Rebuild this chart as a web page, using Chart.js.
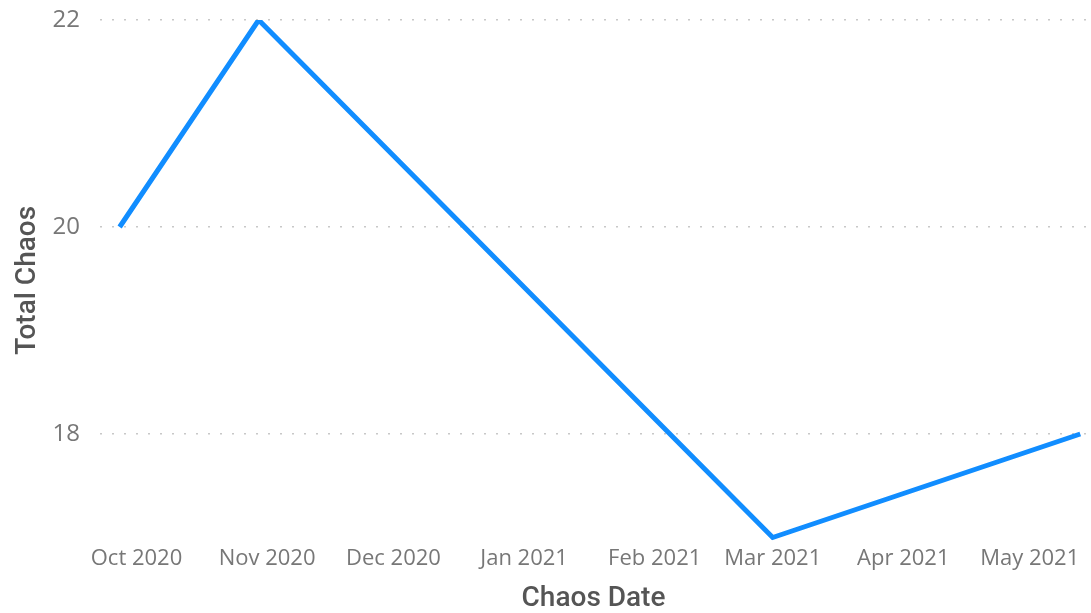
<!DOCTYPE html>
<html>
<head>
<meta charset="utf-8">
<script src="https://cdn.jsdelivr.net/npm/chart.js@4/dist/chart.umd.min.js"></script>
<style>
  html, body { margin: 0; padding: 0; background: #fff; }
  #wrap { width: 1091px; height: 613px; }
</style>
</head>
<body>
<div id="wrap"><canvas id="chaos_chart" width="1091" height="613"></canvas></div>
<script>
// continuous date axis
var chaosDates = ["2020-09-27", "2020-10-30", "2021-03-01", "2021-05-13"];
var totalChaos = [20, 22, 17, 18];
var monthStarts = ["2020-10-01", "2020-11-01", "2020-12-01", "2021-01-01", "2021-02-01", "2021-03-01", "2021-04-01", "2021-05-01"];
var monthLabels = ["Oct 2020", "Nov 2020", "Dec 2020", "Jan 2021", "Feb 2021", "Mar 2021", "Apr 2021", "May 2021"];
var yTicks = [18, 20, 22];

// days counted from 1 Oct 2020, no date adapter is loaded
function dayNo(s) {
	return (Date.parse(s + "T00:00:00Z") - Date.parse("2020-10-01T00:00:00Z")) / 86400000;
}

var points = [];
for (var i = 0; i < chaosDates.length; i++) {
	points.push({ x: dayNo(chaosDates[i]), y: totalChaos[i] });
}

new Chart(document.getElementById("chaos_chart"), {
	type: 'line',
	data: {
		datasets: [{
			label: "Total Chaos",
			data: points,
			borderColor: "#118DFF",
			backgroundColor: "#118DFF",
			borderWidth: 5,
			borderJoinStyle: 'miter',
			pointRadius: 0,
			tension: 0
		}]
	},
	options: {
		responsive: false,
		animation: false,
		layout: { padding: { left: 4, right: 4, top: 20, bottom: 0 } },
		plugins: {
			legend: { display: false },
			tooltip: { enabled: false }
		},
		scales: {
			x: {
				type: 'linear',
				min: -8.66,
				max: 225.6,
				afterBuildTicks: function(scale) {
					scale.ticks = monthStarts.map(function(d) { return { value: dayNo(d) }; });
				},
				afterFit: function(scale) {
					scale.height = 72.4;
					scale.paddingLeft = 0;
					scale.paddingRight = 0;
				},
				ticks: {
					autoSkip: false,
					maxRotation: 0,
					padding: 5,
					color: "#777",
					font: { family: "Open Sans", size: 22 },
					callback: function(v, idx) { return monthLabels[idx]; }
				},
				grid: { display: false, drawTicks: false },
				border: { display: false },
				title: {
					display: true,
					text: "Chaos Date",
					color: "#555",
					font: { family: "Roboto", size: 28, weight: '500', lineHeight: 1 },
					padding: { top: 0, bottom: 0 }
				}
			},
			y: {
				min: 16.97,
				max: 22,
				afterBuildTicks: function(scale) {
					scale.ticks = yTicks.map(function(v) { return { value: v }; });
				},
				afterFit: function(scale) {
					scale.width = 96;
					scale.paddingTop = 0;
					scale.paddingBottom = 0;
				},
				ticks: {
					padding: 20,
					color: "#777",
					font: { family: "Open Sans", size: 24 }
				},
				grid: { color: "#c8c8c8", lineWidth: 1.5, drawTicks: false },
				border: { display: false, dash: [2, 10] },
				title: {
					display: true,
					text: "Total Chaos",
					color: "#555",
					font: { family: "Roboto", size: 28, weight: '500' },
					padding: { top: 7, bottom: 0 }
				}
			}
		}
	}
});
</script>
</body>
</html>
